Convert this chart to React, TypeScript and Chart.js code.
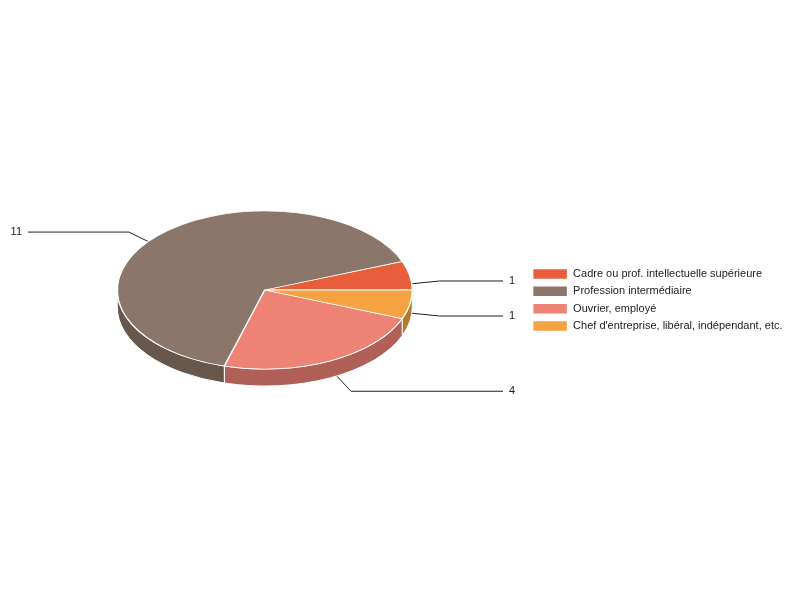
import { useEffect, useRef } from "react";
import { Chart, registerables, Plugin } from "chart.js";

Chart.register(...registerables);
Chart.defaults.font.family = "Arial, 'Liberation Sans', sans-serif";
Chart.defaults.font.size = 11;
Chart.defaults.color = "#222222";

// data
const categories = [
  "Cadre ou prof. intellectuelle supérieure",
  "Profession intermédiaire",
  "Ouvrier, employé",
  "Chef d'entreprise, libéral, indépendant, etc.",
];
const counts = [1, 11, 4, 1];
const topColors = ["#e95e3a", "#8b7769", "#ee8275", "#f5a241"];

// 3d look
const TILT = 0.536; // vertical squash of the pie
const DEPTH = 17; // thickness of the side
const LIFT = -10; // pie sits a bit above the chart area middle
const LEADER = 30; // first leg of the label lines
const RIGHT_LINE_END = 503;
const LEFT_LINE_END = 28;

function darker(hex: string, f = 0.74) {
  const n = parseInt(hex.slice(1), 16);
  const r = Math.round(((n >> 16) & 255) * f);
  const g = Math.round(((n >> 8) & 255) * f);
  const b = Math.round((n & 255) * f);
  return `rgb(${r}, ${g}, ${b})`;
}

const pie3d: Plugin<"pie"> = {
  id: "pie3d",
  beforeDatasetsDraw(chart) {
    const ctx = chart.ctx;
    const meta = chart.getDatasetMeta(0);
    if (!meta.data.length) return;
    const first = meta.data[0] as any;
    const cx = first.x;
    const cy = first.y + LIFT;
    const r = first.outerRadius;

    // value labels; lines go under the pie, from the middle of its thickness
    ctx.save();
    ctx.strokeStyle = "#222222";
    ctx.lineWidth = 1;
    ctx.fillStyle = "#222222";
    ctx.font = "11px Arial, 'Liberation Sans', sans-serif";
    ctx.textBaseline = "middle";
    meta.data.forEach((el: any, i) => {
      const m = (el.startAngle + el.endAngle) / 2;
      const ax = cx + r * Math.cos(m);
      const ay = cy - r * TILT * Math.sin(m) + DEPTH / 2;
      const dx = Math.cos(m);
      const dy = -TILT * Math.sin(m);
      const len = Math.hypot(dx, dy);
      const ex = ax + (LEADER * dx) / len;
      const ey = ay + (LEADER * dy) / len;
      const right = dx >= 0;
      const endX = right ? RIGHT_LINE_END : LEFT_LINE_END;
      ctx.beginPath();
      ctx.moveTo(ax, ay);
      ctx.lineTo(ex, ey);
      ctx.lineTo(endX, ey);
      ctx.stroke();
      ctx.textAlign = right ? "left" : "right";
      ctx.fillText(String(counts[i]), right ? endX + 6 : endX - 6, ey);
    });
    ctx.restore();

    // side of the pie, front half only
    ctx.save();
    ctx.lineWidth = 1;
    ctx.strokeStyle = "#ffffff";
    meta.data.forEach((el: any, i) => {
      const a = Math.max(el.startAngle, Math.PI);
      const b = Math.min(el.endAngle, 2 * Math.PI);
      if (b <= a) return;
      ctx.beginPath();
      ctx.ellipse(cx, cy, r, r * TILT, 0, -a, -b, true);
      ctx.ellipse(cx, cy + DEPTH, r, r * TILT, 0, -b, -a, false);
      ctx.closePath();
      ctx.fillStyle = darker(topColors[i]);
      ctx.fill();
      ctx.stroke();
    });
    ctx.restore();

    // squash (and mirror, so slices run counter-clockwise) the top face
    ctx.save();
    ctx.translate(cx, cy);
    ctx.scale(1, -TILT);
    ctx.translate(-cx, -first.y);
  },
  afterDatasetsDraw(chart) {
    if (!chart.getDatasetMeta(0).data.length) return;
    chart.ctx.restore();
  },
};

function PieChart3D() {
  const canvasRef = useRef<HTMLCanvasElement | null>(null);
  const chartRef = useRef<Chart | null>(null);

  useEffect(() => {
    if (!canvasRef.current) return;
    if (chartRef.current) chartRef.current.destroy();

    chartRef.current = new Chart(canvasRef.current, {
      type: "pie",
      data: {
        labels: categories,
        datasets: [
          {
            data: counts,
            backgroundColor: topColors,
            borderColor: "#ffffff",
            borderWidth: 1.5,
            radius: 147.5,
            clip: false,
          } as any,
        ],
      },
      options: {
        animation: false,
        responsive: false,
        rotation: 90,
        layout: { padding: { left: 3.3, right: 7.5, top: 0, bottom: 0 } },
        plugins: {
          tooltip: { enabled: false },
          legend: {
            position: "right",
            labels: {
              boxWidth: 35,
              boxHeight: 11,
              padding: 6.33,
              color: "#222222",
              font: { size: 11 },
            },
          },
        },
      },
      plugins: [pie3d],
    });

    return () => {
      if (chartRef.current) {
        chartRef.current.destroy();
        chartRef.current = null;
      }
    };
  }, []);

  return <canvas ref={canvasRef} width={800} height={600}></canvas>;
}

export default function App() {
  return (
    <div style={{ position: "fixed", left: 0, top: 0, width: 800, height: 600, background: "#ffffff" }}>
      <PieChart3D />
    </div>
  );
}
